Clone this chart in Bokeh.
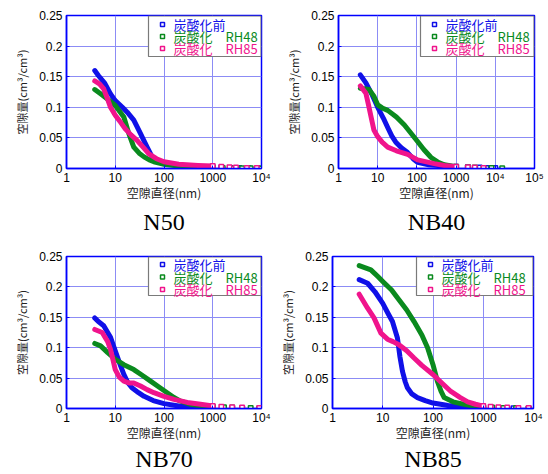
import numpy as np
from bokeh.plotting import figure
from bokeh.models import FixedTicker, Range1d, BoxAnnotation, Label, LogAxis
from bokeh.layouts import column, row
from bokeh.embed import file_html
from bokeh.resources import INLINE

# ---------------- data ----------------
PANELS = ["N50", "NB40", "NB70", "NB85"]
SERIES_LABELS = ["炭酸化前", "炭酸化　RH48", "炭酸化　RH85"]
X_LABEL = "空隙直径(nm)"
Y_LABEL = "空隙量(cm³/cm³)"
X_TICKS = [1, 10, 100, 1000, 10000, 100000]
X_TICK_LABELS = ["1", "10", "100", "1000", "10⁴", "10⁵"]
Y_TICKS = [0, 0.05, 0.1, 0.15, 0.2, 0.25]
Y_TICK_LABELS = ["0", "0.05", "0.1", "0.15", "0.2", "0.25"]
X_MAX = [1e4, 1e5, 1e4, 1e4]

# N50
n50_before_x = [3.8, 4.5, 6, 8, 10, 14, 17.6, 24, 33, 45, 57, 75, 100, 200, 500, 1000, 1500, 2300, 3500, 5500, 8500]
n50_before_y = [0.160, 0.152, 0.140, 0.122, 0.111, 0.100, 0.092, 0.079, 0.057, 0.035, 0.019, 0.012, 0.008, 0.005, 0.003, 0.002, 0.0015, 0.001, 0.0008, 0.0005, 0.0003]
n50_rh48_x = [3.8, 5, 6.8, 10, 15, 19, 24, 31, 39, 50, 62, 100, 200, 500, 1000, 1600, 2500, 4000, 6000, 9000]
n50_rh48_y = [0.129, 0.122, 0.114, 0.103, 0.084, 0.057, 0.035, 0.025, 0.019, 0.014, 0.011, 0.007, 0.004, 0.002, 0.001, 0.0008, 0.0006, 0.0004, 0.0003, 0.0002]
n50_rh85_x = [3.8, 4.8, 5.8, 7, 8, 10, 13, 16, 21, 28, 38, 49, 70, 100, 200, 500, 1000, 1500, 2200, 3000, 5000, 8000]
n50_rh85_y = [0.143, 0.138, 0.130, 0.113, 0.100, 0.087, 0.075, 0.065, 0.055, 0.046, 0.034, 0.024, 0.016, 0.011, 0.007, 0.005, 0.004, 0.003, 0.002, 0.0015, 0.001, 0.0008]

# NB40
nb40_before_x = [3.6, 5, 7, 10, 14, 18, 23, 29, 40, 58, 80, 104, 200, 500, 1000, 2000, 4000, 6000, 10000]
nb40_before_y = [0.153, 0.140, 0.122, 0.100, 0.082, 0.067, 0.053, 0.043, 0.034, 0.026, 0.016, 0.010, 0.006, 0.004, 0.003, 0.002, 0.0015, 0.001, 0.0008]
nb40_rh48_x = [3.6, 6, 8, 10, 13, 18, 30, 48, 70, 104, 150, 230, 350, 500, 1000, 2000, 3000, 5000, 8000, 15000]
nb40_rh48_y = [0.131, 0.129, 0.118, 0.104, 0.099, 0.095, 0.084, 0.071, 0.058, 0.044, 0.031, 0.018, 0.010, 0.006, 0.003, 0.002, 0.0015, 0.001, 0.0008, 0.0005]
nb40_rh85_x = [3.6, 5, 6, 7, 8, 10, 13, 18, 30, 58, 104, 277, 500, 1000, 2000, 3000, 5000]
nb40_rh85_y = [0.135, 0.123, 0.100, 0.080, 0.063, 0.052, 0.043, 0.035, 0.029, 0.023, 0.014, 0.008, 0.005, 0.003, 0.002, 0.0015, 0.001]

# NB70
nb70_before_x = [3.8, 4.5, 5.8, 8, 10, 12.5, 15, 18, 22, 30, 39, 60, 100, 200, 500, 1000, 1600, 2500, 4000]
nb70_before_y = [0.149, 0.143, 0.136, 0.117, 0.095, 0.073, 0.056, 0.043, 0.034, 0.026, 0.020, 0.013, 0.008, 0.004, 0.002, 0.001, 0.0008, 0.0005, 0.0003]
nb70_rh48_x = [3.8, 5, 7, 10, 15, 24, 35, 53, 80, 116, 160, 218, 350, 600, 1000, 1700, 2500, 4000, 6000, 9000]
nb70_rh48_y = [0.107, 0.103, 0.092, 0.081, 0.072, 0.064, 0.055, 0.045, 0.035, 0.026, 0.018, 0.012, 0.007, 0.004, 0.003, 0.002, 0.0015, 0.001, 0.0008, 0.0005]
nb70_rh85_x = [3.8, 5.4, 7, 8, 9, 10, 12, 15, 19, 24, 33, 45, 62, 100, 160, 300, 560, 1000, 1500, 2500, 4000, 9000]
nb70_rh85_y = [0.130, 0.125, 0.110, 0.097, 0.080, 0.064, 0.052, 0.045, 0.042, 0.042, 0.037, 0.031, 0.026, 0.020, 0.015, 0.010, 0.007, 0.004, 0.003, 0.002, 0.0015, 0.001]

# NB85
nb85_before_x = [3.4, 5, 7, 10, 13, 15.6, 19.6, 22, 24.7, 28, 31, 38, 49, 70, 100, 200, 500, 1000, 1500, 2500, 4000, 8000]
nb85_before_y = [0.212, 0.206, 0.192, 0.173, 0.155, 0.143, 0.116, 0.085, 0.061, 0.044, 0.034, 0.024, 0.018, 0.013, 0.009, 0.005, 0.002, 0.001, 0.0008, 0.0005, 0.0003, 0.0002]
nb85_rh48_x = [3.4, 5.8, 8, 10, 15, 21, 30, 42, 60, 78, 100, 122, 145, 167, 250, 360, 600, 1000, 1500, 2500, 4500, 8000]
nb85_rh48_y = [0.235, 0.228, 0.217, 0.209, 0.195, 0.179, 0.162, 0.143, 0.121, 0.100, 0.072, 0.045, 0.028, 0.018, 0.011, 0.008, 0.004, 0.002, 0.0015, 0.001, 0.0007, 0.0004]
nb85_rh85_x = [3.4, 5, 6.7, 9.2, 12.4, 16, 21, 30, 42, 60, 100, 150, 227, 350, 490, 700, 1000, 1400, 2000, 3000, 5000, 8000]
nb85_rh85_y = [0.188, 0.165, 0.149, 0.124, 0.114, 0.110, 0.105, 0.095, 0.083, 0.071, 0.056, 0.042, 0.028, 0.018, 0.011, 0.007, 0.004, 0.003, 0.002, 0.0015, 0.001, 0.0008]

PANEL_DATA = [
    [(n50_before_x, n50_before_y), (n50_rh48_x, n50_rh48_y), (n50_rh85_x, n50_rh85_y)],
    [(nb40_before_x, nb40_before_y), (nb40_rh48_x, nb40_rh48_y), (nb40_rh85_x, nb40_rh85_y)],
    [(nb70_before_x, nb70_before_y), (nb70_rh48_x, nb70_rh48_y), (nb70_rh85_x, nb70_rh85_y)],
    [(nb85_before_x, nb85_before_y), (nb85_rh48_x, nb85_rh48_y), (nb85_rh85_x, nb85_rh85_y)],
]

# ---------------- style / layout ----------------
COLORS = ["#1010e8", "#0a8a1e", "#f0148c"]
FRAME_BLUE = "#0000ff"
GRID_BLUE = "#8c8cf5"
TAIL_START = 1000
FIG_W, FIG_H = 274, 237
# (left, right, top, bottom) borders per panel
BORDERS = [(66, 13, 15, 69), (64, 14, 15, 69), (66, 13, 19, 66), (58, 15, 19, 66)]
TITLE_STANDOFF = [5, 5, 2, 2]
LEG_W = [113, 114, 113, 117]
LEG_H = [41, 41, 39, 39]
LEG_ROWS = [[9, 21, 33], [9, 21, 33], [8, 20.5, 33], [8, 20.5, 33]]
CJK = "Noto Sans CJK JP"
SANS = "Liberation Sans"
SERIF = "Liberation Serif"


def screen_box(**kw):
    return BoxAnnotation(left_units="screen", right_units="screen",
                         top_units="screen", bottom_units="screen", **kw)


def make_panel(i):
    bl, br, bt, bb = BORDERS[i]
    fw = FIG_W - bl - br
    fh = FIG_H - bt - bb
    xmax = X_MAX[i]
    p = figure(width=FIG_W, height=FIG_H, x_axis_type="log",
               x_range=Range1d(1, xmax), y_range=Range1d(0, 0.25),
               output_backend="svg", toolbar_location=None,
               min_border_left=bl, min_border_right=br,
               min_border_top=bt, min_border_bottom=bb)

    p.background_fill_color = "white"
    p.border_fill_color = "white"
    p.outline_line_color = FRAME_BLUE
    p.outline_line_width = 1.5
    p.grid.grid_line_color = GRID_BLUE
    p.grid.grid_line_width = 1

    xt = [t for t in X_TICKS if t <= xmax]
    p.xaxis.ticker = FixedTicker(ticks=xt)
    p.xaxis.major_label_overrides = {t: l for t, l in zip(X_TICKS, X_TICK_LABELS) if t <= xmax}
    p.yaxis.ticker = FixedTicker(ticks=Y_TICKS)
    p.yaxis.major_label_overrides = {t: l for t, l in zip(Y_TICKS, Y_TICK_LABELS)}
    for ax in (p.xaxis, p.yaxis):
        ax.axis_line_color = FRAME_BLUE
        ax.axis_line_width = 1.5
        ax.major_tick_in = 3
        ax.major_tick_out = 0
        ax.major_tick_line_color = FRAME_BLUE
        ax.minor_tick_line_color = None
        ax.major_label_text_font = SANS
        ax.major_label_text_font_size = "12px"
        ax.major_label_text_color = "black"
        ax.axis_label_text_font = CJK
        ax.axis_label_text_font_style = "normal"
        ax.axis_label_text_color = "#222222"
    p.xaxis.major_label_standoff = 2
    p.xaxis.axis_label_standoff = -4
    p.yaxis.major_label_standoff = 4
    p.yaxis.axis_label_standoff = 6
    p.xaxis.axis_label = X_LABEL
    p.xaxis.axis_label_text_font_size = "12px"
    p.yaxis.axis_label = Y_LABEL
    p.yaxis.axis_label_text_font_size = "11px"

    # panel name: label of an extra, tick-less axis stacked below the x axis
    name_axis = LogAxis(ticker=FixedTicker(ticks=[]), axis_label=PANELS[i],
                        axis_line_color=None, major_tick_line_color=None,
                        minor_tick_line_color=None, major_tick_in=0, major_tick_out=0,
                        major_label_standoff=0,
                        axis_label_standoff=TITLE_STANDOFF[i],
                        axis_label_text_font=SERIF, axis_label_text_font_size="24px",
                        axis_label_text_font_style="normal", axis_label_text_color="black")
    p.add_layout(name_axis, "below")

    for (xs, ys), color in zip(PANEL_DATA[i], COLORS):
        xs = np.asarray(xs, dtype=float)
        ys = np.asarray(ys, dtype=float)
        dense = xs <= TAIL_START
        tail = xs >= TAIL_START
        p.line(xs[dense], ys[dense], line_color=color, line_width=5,
               line_join="round", line_cap="round")
        p.scatter(xs[tail], ys[tail], marker="square", size=4.5,
                  line_color=color, line_width=1.5, fill_color="white")

    # legend box (top-right corner of the frame)
    left = fw - LEG_W[i]
    p.add_layout(screen_box(left=left, right=fw - 0.5, top=fh - 0.5, bottom=fh - LEG_H[i],
                            fill_color="white", fill_alpha=1.0,
                            line_color="#7a7a7a", line_alpha=1.0, line_width=1.2,
                            level="overlay"))
    for lab, color, off in zip(SERIES_LABELS, COLORS, LEG_ROWS[i]):
        cy = fh - off
        cx = left + 14
        p.add_layout(screen_box(left=cx - 2, right=cx + 2, top=cy + 2, bottom=cy - 2,
                                fill_color="white", fill_alpha=1.0,
                                line_color=color, line_alpha=1.0, line_width=1.5,
                                level="overlay"))
        p.add_layout(Label(x=left + 25, y=cy, x_units="screen", y_units="screen",
                           text=lab, text_color=color, text_font=CJK,
                           text_font_size="13px", text_baseline="middle",
                           text_align="left", level="overlay"))
    return p


plots = [make_panel(i) for i in range(4)]
layout = column(row(plots[0], plots[1]), row(plots[2], plots[3]))

with open("out.html", "w") as f:
    f.write(file_html(layout, INLINE))
